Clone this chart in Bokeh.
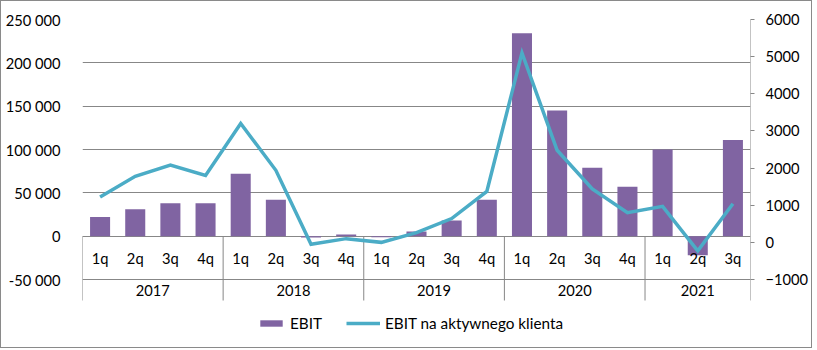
from bokeh.plotting import figure
from bokeh.models import Range1d, LinearAxis, FixedTicker, Legend, LegendItem
from bokeh.core.properties import value
from bokeh.embed import file_html
from bokeh.resources import INLINE

quarters = ["1q", "2q", "3q", "4q"] * 4 + ["1q", "2q", "3q"]
years = ["2017", "2018", "2019", "2020", "2021"]
year_counts = [4, 4, 4, 4, 3]
ebit = [22000, 31000, 38000, 38000, 72000, 42000, -1500, 2000, -1200, 5500,
        18000, 42000, 234000, 145000, 79000, 57000, 100000, -22000, 111000]
ebit_per_client = [1220, 1780, 2080, 1800, 3200, 1940, -50, 100, 0, 260,
                   640, 1370, 5100, 2480, 1440, 800, 970, -230, 1040]
left_ticks = [-50000, 0, 50000, 100000, 150000, 200000, 250000]
left_tick_labels = ["-50 000", "0", "50 000", "100 000", "150 000", "200 000", "250 000"]
right_ticks = [-1000, 0, 1000, 2000, 3000, 4000, 5000, 6000]

FONT = "Lato"
FS = "14.7px"
LFS = "15.3px"
GRID = "#878787"
BAR = "#8064A2"
LINE = "#4BACC6"

L_TOP, L_BOT = 250000, -130769.2
R_TOP, R_BOT = 6000, -2884.6
L_CAT_BOTTOM = -74230.8
R_CAT_BOTTOM = -1565.4

n = len(quarters)
xs = [i + 0.5 for i in range(n)]

p = figure(width=812, height=348, output_backend="svg", toolbar_location=None,
           x_range=Range1d(0, n), y_range=Range1d(L_BOT, L_TOP),
           min_border_left=81, min_border_right=63, min_border_top=18, min_border_bottom=0)
p.styles = {"border": "1px solid #8a8a8a"}
p.outline_line_color = None
p.background_fill_color = "white"
p.border_fill_color = "white"
p.extra_y_ranges = {"right": Range1d(R_BOT, R_TOP)}

p.xaxis.visible = False
p.xgrid.visible = False
p.yaxis.ticker = FixedTicker(ticks=left_ticks)
p.yaxis.major_label_overrides = {t: l for t, l in zip(left_ticks, left_tick_labels)}
p.yaxis.axis_line_color = None
p.yaxis.major_tick_line_color = None
p.yaxis.minor_tick_line_color = None
p.yaxis.major_label_standoff = 16
p.yaxis.major_label_text_font = FONT
p.yaxis.major_label_text_font_size = FS
p.yaxis.major_label_text_color = "black"
p.ygrid.ticker = FixedTicker(ticks=left_ticks)
p.ygrid.grid_line_color = GRID
p.ygrid.grid_line_width = 1

ra = LinearAxis(y_range_name="right", ticker=FixedTicker(ticks=right_ticks))
ra.axis_line_color = None
ra.major_tick_line_color = GRID
ra.major_tick_out = 4
ra.major_tick_in = 0
ra.minor_tick_line_color = None
ra.major_label_standoff = 11
ra.major_label_text_font = FONT
ra.major_label_text_font_size = FS
ra.major_label_text_color = "black"
p.add_layout(ra, "right")

p.segment(x0=[n], y0=[R_CAT_BOTTOM], x1=[n], y1=[R_TOP], y_range_name="right",
          line_color=GRID, line_width=1)

seps = [0]
for c in year_counts[:-1]:
    seps.append(seps[-1] + c)
p.segment(x0=seps, y0=[0] * len(seps), x1=seps, y1=[L_CAT_BOTTOM] * len(seps),
          line_color=GRID, line_width=1)

bars = p.vbar(x=xs, top=ebit, bottom=0, width=0.57, fill_color=BAR, line_color=None)
line = p.line(x=xs, y=ebit_per_client, y_range_name="right", line_color=LINE, line_width=3.5,
              line_join="miter")

p.text(x=xs, y=[-25769] * n, text=quarters, text_align="center", text_baseline="middle",
       text_font=value(FONT), text_font_size=FS, text_color="black")
ycent = []
start = 0
for c in year_counts:
    ycent.append(start + c / 2)
    start += c
p.text(x=ycent, y=[-62692] * len(years), text=years, text_align="center", text_baseline="middle",
       text_font=value(FONT), text_font_size=FS, text_color="black")

for item, loc, gw in [(LegendItem(label="EBIT", renderers=[bars]), (175, 17), 28),
                      (LegendItem(label="EBIT na aktywnego klienta", renderers=[line]), (264, 17), 34)]:
    lg = Legend(items=[item], location=loc, orientation="horizontal",
                glyph_width=gw, glyph_height=8, label_standoff=5, padding=0, margin=0,
                border_line_color=None, background_fill_alpha=0,
                label_text_font=FONT, label_text_font_size=LFS, label_text_color="black")
    p.add_layout(lg, "center")

open("out.html", "w").write(file_html(p, INLINE))
